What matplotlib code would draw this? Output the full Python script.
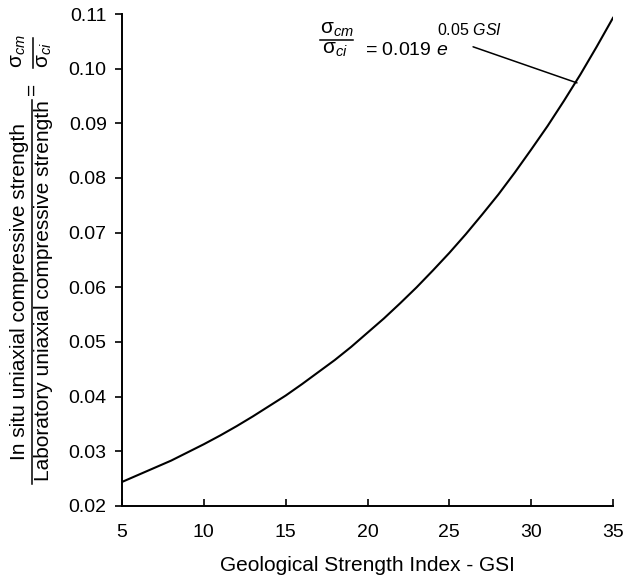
import numpy as np
import matplotlib
matplotlib.use("Agg")
import matplotlib.pyplot as plt
from matplotlib.lines import Line2D

# GSI vs sigma_cm / sigma_ci
gsi = [5, 6, 7, 8, 9, 10, 11, 12, 13, 14, 15, 16, 17, 18, 19, 20,
       21, 22, 23, 24, 25, 26, 27, 28, 29, 30, 31, 32, 33, 34, 35]
ratio = [0.0244, 0.0257, 0.0270, 0.0283, 0.0298, 0.0313, 0.0329, 0.0346,
         0.0364, 0.0383, 0.0402, 0.0423, 0.0445, 0.0467, 0.0491, 0.0517,
         0.0543, 0.0571, 0.0600, 0.0631, 0.0663, 0.0697, 0.0733, 0.0770,
         0.0810, 0.0852, 0.0895, 0.0941, 0.0989, 0.1040, 0.1093]
x_ticks = [5, 10, 15, 20, 25, 30, 35]
y_ticks = [0.02, 0.03, 0.04, 0.05, 0.06, 0.07, 0.08, 0.09, 0.10, 0.11]

label_top = 'In situ uniaxial compressive strength'
label_bottom = 'Laboratory uniaxial compressive strength'
sig_num = 'σ$_{cm}$'
sig_den = 'σ$_{ci}$'

plt.rcParams['font.family'] = ['Liberation Sans', 'DejaVu Sans']
plt.rcParams['mathtext.fontset'] = 'custom'
plt.rcParams['mathtext.rm'] = 'Liberation Sans'
plt.rcParams['mathtext.it'] = 'Liberation Sans:italic'

W, H = 623, 584
fig = plt.figure(figsize=(W / 100, H / 100), dpi=100)


def fx(px):
    return px / W


def fy(py):
    return 1 - py / H


ax = fig.add_axes([fx(122), fy(506), (613 - 122) / W, (506 - 14) / H])

ax.plot(gsi, ratio, color='black', linewidth=1.5)

ax.set_xlim(5, 35)
ax.set_ylim(0.02, 0.11)
ax.set_xticks(x_ticks)
ax.set_yticks(y_ticks)
ax.set_yticklabels([f"{v:.2f}" for v in y_ticks])
ax.tick_params(axis='x', direction='in', length=5, width=1.2, labelsize=14, pad=13)
ax.tick_params(axis='y', direction='out', length=5, width=1.2, labelsize=14, pad=6)
for s in ['top', 'right']:
    ax.spines[s].set_visible(False)
for s in ['left', 'bottom']:
    ax.spines[s].set_linewidth(1.4)

ax.set_xlabel('Geological Strength Index - GSI', fontsize=15, labelpad=11)

# y label built as a stacked fraction
fig.text(fx(20), fy(291), label_top, rotation=90, fontsize=15,
         ha='center', va='center')
fig.text(fx(44), fy(291), label_bottom, rotation=90, fontsize=15,
         ha='center', va='center')
fig.add_artist(Line2D([fx(32), fx(32)], [fy(484), fy(100)], color='black', lw=1.1))
fig.text(fx(32), fy(89), '=', rotation=90, fontsize=15, ha='center', va='center')
fig.text(fx(19), fy(51), sig_num, rotation=90, fontsize=15, ha='center', va='center')
fig.text(fx(45), fy(55), sig_den, rotation=90, fontsize=15, ha='center', va='center')
fig.add_artist(Line2D([fx(33), fx(33)], [fy(68), fy(38)], color='black', lw=1.1))

# equation annotation
fig.text(fx(337), fy(34), sig_num, fontsize=15, ha='center', va='baseline')
fig.text(fx(335), fy(54), sig_den, fontsize=15, ha='center', va='baseline')
fig.add_artist(Line2D([fx(320), fx(353)], [fy(39.5), fy(39.5)], color='black', lw=1.1))
fig.text(fx(365), fy(55), '= 0.019 $e$', fontsize=14, ha='left', va='baseline')
fig.text(fx(437), fy(35), '0.05 $GSI$', fontsize=11.5, ha='left', va='baseline')
ax.annotate('', xy=(32.8, 0.0974), xytext=(26.45, 0.1040),
            arrowprops=dict(arrowstyle='-', color='black', lw=1.1,
                            shrinkA=0, shrinkB=0))

fig.savefig('out.png', dpi=100)
